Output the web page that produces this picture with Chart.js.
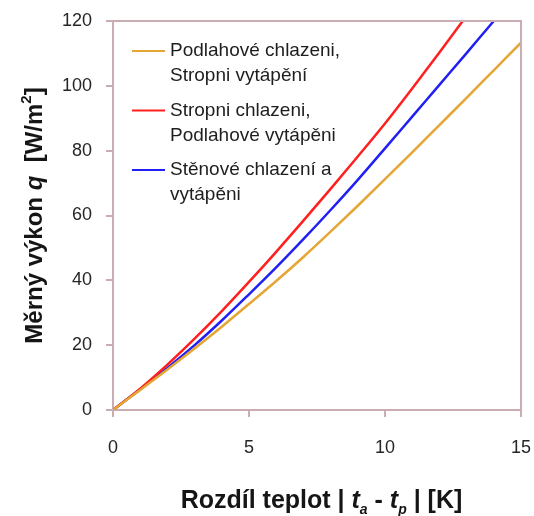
<!DOCTYPE html>
<html>
<head>
<meta charset="utf-8">
<script src="https://cdn.jsdelivr.net/npm/chart.js@4/dist/chart.umd.min.js"></script>
<style>
  html, body { margin: 0; padding: 0; background: #ffffff; }
  #wrap { width: 534px; height: 516px; position: relative; }
</style>
</head>
<body>
<div id="wrap"><canvas id="c" width="534" height="516"></canvas></div>
<script>
// ---- data ----
const deltaT = [0, 1, 2, 3, 4, 5, 6, 7, 8, 9, 10, 11, 12, 13, 14, 15];
const floorCoolingCeilingHeating = [0, 6.2, 12.5, 19.0, 25.7, 32.7, 39.8, 47.2, 55.0, 63.0, 71.2, 79.5, 87.9, 96.3, 104.8, 113.3];
const ceilingCoolingFloorHeating = [0, 6.6, 14.0, 22.0, 30.5, 39.5, 48.8, 58.4, 68.2, 78.2, 88.4, 99.2, 110.3, 121.6];
const wallCoolingHeating = [0, 6.4, 13.0, 20.0, 27.6, 35.7, 44.0, 52.7, 61.7, 71.0, 80.7, 90.5, 100.3, 110.1, 120.0, 129.7];

const legendOrange = ['Podlahové chlazeni,', 'Stropni vytápění'];
const legendRed = ['Stropni chlazeni,', 'Podlahové vytápěni'];
const legendBlue = ['Stěnové chlazení a', 'vytápěni'];

const xTicks = [0, 5, 10, 15];
const yTicks = [0, 20, 40, 60, 80, 100, 120];

const yTitleParts = ['Měrný výkon ', 'q', '  [W/m', '2', ']'];
const xTitleParts = ['Rozdíl teplot | ', 't', 'a', ' - ', 't', 'p', ' | [K]'];

// ---- styles ----
const FONT = "'Liberation Sans', Arial, Helvetica, sans-serif";
const AXIS_COLOR = '#c9adb3';
const ORANGE = '#e4a634';
const RED = '#ff1f1f';
const BLUE = '#2020f4';

function pts(vals) { return vals.map((v, i) => ({ x: deltaT[i], y: v })); }

const frame = {
  id: 'frame',
  afterDraw(chart) {
    const { ctx, chartArea: a } = chart;
    ctx.save();
    ctx.strokeStyle = AXIS_COLOR;
    ctx.lineWidth = 2;
    ctx.beginPath();
    ctx.moveTo(a.left, a.top);
    ctx.lineTo(a.right, a.top);
    ctx.lineTo(a.right, a.bottom);
    ctx.stroke();
    ctx.restore();
  }
};

const legendPlugin = {
  id: 'customLegend',
  afterDraw(chart) {
    const { ctx, chartArea: a } = chart;
    ctx.save();
    chart.data.datasets.forEach((ds, i) => {
      const gy = a.top + 30 + i * 59.5;
      ctx.strokeStyle = ds.borderColor;
      ctx.lineWidth = 2.2;
      ctx.beginPath();
      ctx.moveTo(a.left + 19, gy);
      ctx.lineTo(a.left + 52, gy);
      ctx.stroke();
      ctx.fillStyle = '#1e1e1e';
      ctx.font = '19px ' + FONT;
      ctx.textBaseline = 'middle';
      ctx.textAlign = 'left';
      ds.legendLines.forEach((t, k) => ctx.fillText(t, a.left + 57, gy + k * 25));
    });
    ctx.restore();
  }
};

function runsWidth(ctx, runs) {
  return runs.reduce((s, r) => { ctx.font = r.font; return s + ctx.measureText(r.text).width; }, 0);
}

const titles = {
  id: 'titles',
  afterDraw(chart) {
    const { ctx, chartArea: a } = chart;
    ctx.save();
    ctx.fillStyle = '#151515';
    ctx.textBaseline = 'alphabetic';
    ctx.textAlign = 'left';
    // y title
    const yb = 'bold 24px ' + FONT, yi = 'italic bold 24px ' + FONT, ys = 'bold 15px ' + FONT;
    const yRuns = [
      { text: yTitleParts[0], font: yb, dy: 0 },
      { text: yTitleParts[1], font: yi, dy: 0 },
      { text: yTitleParts[2], font: yb, dy: 0 },
      { text: yTitleParts[3], font: ys, dy: -11 },
      { text: yTitleParts[4], font: yb, dy: 0 }
    ];
    const yw = runsWidth(ctx, yRuns);
    ctx.translate(42, (a.top + a.bottom) / 2);
    ctx.rotate(-Math.PI / 2);
    let x = -yw / 2;
    yRuns.forEach(r => { ctx.font = r.font; ctx.fillText(r.text, x, r.dy); x += ctx.measureText(r.text).width; });
    ctx.setTransform(1, 0, 0, 1, 0, 0);
    // x title
    const xb = 'bold 25px ' + FONT, xi = 'italic bold 25px ' + FONT, xs = 'italic bold 14px ' + FONT;
    const xRuns = [
      { text: xTitleParts[0], font: xb, dy: 0 },
      { text: xTitleParts[1], font: xi, dy: 0 },
      { text: xTitleParts[2], font: xs, dy: 6 },
      { text: xTitleParts[3], font: xb, dy: 0 },
      { text: xTitleParts[4], font: xi, dy: 0 },
      { text: xTitleParts[5], font: xs, dy: 6 },
      { text: xTitleParts[6], font: xb, dy: 0 }
    ];
    const xw = runsWidth(ctx, xRuns);
    let xx = 321.5 - xw / 2;
    xRuns.forEach(r => { ctx.font = r.font; ctx.fillText(r.text, xx, 508 + r.dy); xx += ctx.measureText(r.text).width; });
    ctx.restore();
  }
};

const lineDs = (label, lines, vals, color) => ({
  label, legendLines: lines, data: pts(vals), borderColor: color, backgroundColor: color,
  borderWidth: 2.5, pointRadius: 0, fill: false, cubicInterpolationMode: 'monotone'
});

new Chart(document.getElementById('c'), {
  type: 'line',
  data: {
    datasets: [
      lineDs(legendOrange.join(' '), legendOrange, floorCoolingCeilingHeating, ORANGE),
      lineDs(legendRed.join(' '), legendRed, ceilingCoolingFloorHeating, RED),
      lineDs(legendBlue.join(' '), legendBlue, wallCoolingHeating, BLUE)
    ]
  },
  options: {
    responsive: false,
    animation: false,
    layout: { padding: { top: 21, right: 13, left: 0, bottom: 0 } },
    plugins: { legend: { display: false }, tooltip: { enabled: false } },
    scales: {
      x: {
        type: 'linear', min: 0, max: 15,
        afterBuildTicks: s => { s.ticks = xTicks.map(v => ({ value: v })); },
        afterFit: s => { s.height = 106; s.paddingLeft = 0; s.paddingRight = 0; },
        grid: { drawOnChartArea: false, drawTicks: true, tickLength: 7, color: AXIS_COLOR, lineWidth: 2 },
        border: { display: true, color: AXIS_COLOR, width: 2 },
        ticks: { padding: 20, color: '#262626', font: { family: FONT, size: 18 }, maxRotation: 0 }
      },
      y: {
        type: 'linear', min: 0, max: 120,
        afterBuildTicks: s => { s.ticks = yTicks.map(v => ({ value: v })); },
        afterFit: s => { s.width = 113; s.paddingTop = 0; s.paddingBottom = 0; },
        grid: { drawOnChartArea: false, drawTicks: true, tickLength: 7, color: AXIS_COLOR, lineWidth: 2 },
        border: { display: true, color: AXIS_COLOR, width: 2 },
        ticks: { padding: 14, color: '#262626', font: { family: FONT, size: 18 } }
      }
    }
  },
  plugins: [frame, legendPlugin, titles]
});
</script>
</body>
</html>
